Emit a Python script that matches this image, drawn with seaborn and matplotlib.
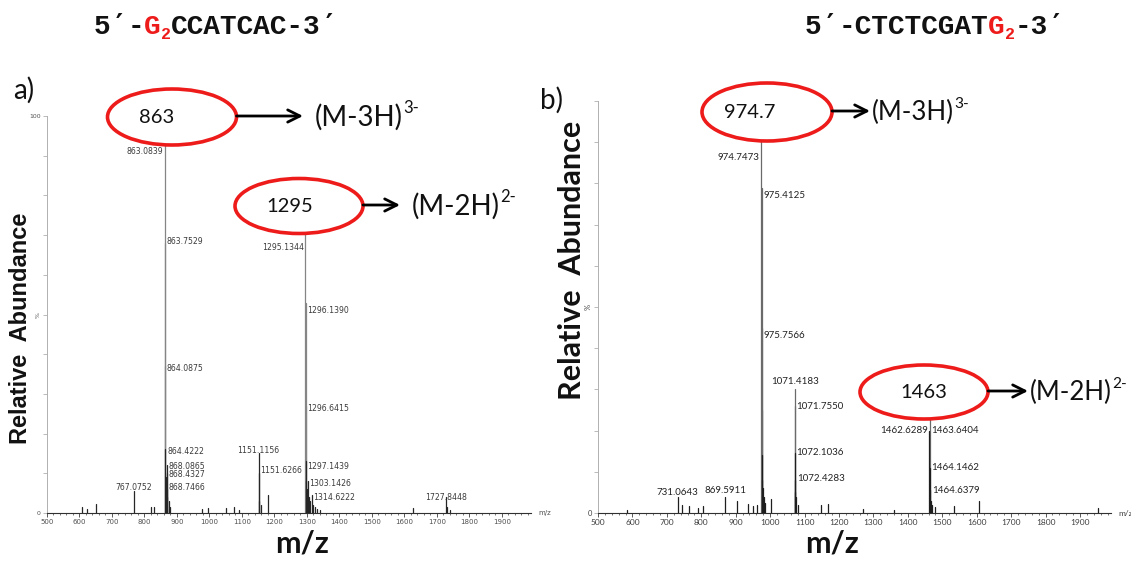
import matplotlib
matplotlib.use("Agg")
import matplotlib.pyplot as plt
from matplotlib.patches import Ellipse
from matplotlib.ticker import MultipleLocator, FixedLocator
import pandas as pd
import seaborn as sns

# ---------------- spectrum a) 5'-G2CCATCAC-3' ----------------
a_mz = [608.0, 623.0, 650.5, 767.0752, 819.0, 828.0,
        863.0839, 863.7529, 864.0875, 864.4222, 865.1, 866.0,
        868.0865, 868.4327, 868.7466, 870.5, 875.5, 880.0,
        977.0, 995.0, 1051.0, 1075.0, 1090.0,
        1151.1156, 1151.6266, 1153.0, 1160.0, 1179.5,
        1295.1344, 1296.1390, 1296.6415, 1297.1439, 1298.5, 1300.0,
        1303.1426, 1306.0, 1310.0, 1314.6222, 1320.0, 1325.0, 1332.0, 1340.0,
        1627.0, 1727.8448, 1732.0, 1740.0]
a_int = [1.6, 1.0, 2.2, 5.5, 1.6, 1.6,
         100.0, 68.0, 37.0, 16.0, 9.0, 7.0,
         12.0, 10.0, 6.0, 4.0, 3.0, 1.5,
         1.0, 1.2, 1.2, 1.5, 0.8,
         15.0, 10.0, 3.0, 2.0, 4.5,
         72.0, 53.0, 27.0, 13.0, 8.0, 6.0,
         8.0, 4.0, 3.0, 4.5, 2.0, 1.5, 1.0, 0.8,
         1.2, 4.0, 1.5, 0.8]
a_labels = [863.0839, 863.7529, 864.0875, 864.4222, 868.0865, 868.4327, 868.7466,
            767.0752, 1151.1156, 1151.6266, 1295.1344, 1296.1390, 1296.6415,
            1297.1439, 1303.1426, 1314.6222, 1727.8448]
a_label_level = [91, 68.5, 36.5, 15.6, 11.8, 9.8, 6.3,
                 6.3, 15.8, 10.8, 67, 51, 26.4, 11.8, 7.5, 4.0, 4.0]
a_label_side = ["right", "left", "left", "left", "left", "left", "left",
                "center", "center", "left", "right", "left", "left",
                "left", "left", "left", "center"]

# ---------------- spectrum b) 5'-CTCTCGATG2-3' ----------------
b_mz = [585.0, 731.0643, 744.0, 765.0, 790.0, 804.0, 869.5911, 904.0, 936.0,
        950.0, 962.0, 974.7473, 975.4125, 975.7566, 976.1, 976.5, 977.5, 979.0,
        982.0, 986.0, 1002.0, 1071.4183, 1071.7550, 1072.1036, 1072.4283, 1073.0,
        1075.0, 1080.0, 1147.0, 1168.0, 1270.0, 1360.0, 1462.6289, 1463.6404,
        1464.1462, 1464.6379, 1466.0, 1470.0, 1478.0, 1535.0, 1608.0, 1951.0]
b_int = [0.8, 4.0, 2.0, 1.8, 1.2, 1.7, 4.0, 3.0, 2.2,
         1.6, 2.0, 100.0, 79.0, 45.0, 25.0, 14.0, 8.0, 6.0,
         4.0, 2.5, 3.5, 30.0, 26.0, 14.5, 8.0, 5.0,
         4.0, 2.0, 2.0, 2.3, 1.0, 0.8, 20.0, 23.0,
         11.0, 5.5, 3.0, 2.0, 1.5, 1.7, 3.0, 1.3]
b_labels = [974.7473, 975.4125, 975.7566, 1071.4183, 1071.7550, 1072.1036,
            1072.4283, 731.0643, 869.5911, 1462.6289, 1463.6404, 1464.1462,
            1464.6379]
b_label_level = [86.4, 77, 43, 32, 25.8, 14.6, 8.3, 4.9, 5.4, 20, 20, 11, 5.4]
b_label_side = ["right", "left", "left", "center", "left", "left", "left",
                "center", "center", "right", "left", "left", "left"]

x_range = (500, 1990)

sns.set_theme(style="white")
plt.rcParams["font.family"] = ["DejaVu Sans"]

W, H = 1131, 561
fig = plt.figure(figsize=(W / 100, H / 100), dpi=100)
fig.patch.set_facecolor("white")


def px_axes(x0, x1, y_top, y_bot):
    return fig.add_axes([x0 / W, 1 - y_bot / H, (x1 - x0) / W, (y_bot - y_top) / H])


def sticks(mz, inten):
    rows = []
    for i, (m, h) in enumerate(zip(mz, inten)):
        rows.append((i, m, 0.0))
        rows.append((i, m, h))
    return pd.DataFrame(rows, columns=["peak", "mz", "abundance"])


def draw_spectrum(ax, mz, inten, tall_color, low_color):
    df = sticks(mz, inten)
    tall = df.groupby("peak")["abundance"].transform("max") > 20
    sns.lineplot(data=df[tall], x="mz", y="abundance", units="peak",
                 estimator=None, color=tall_color, lw=0.9, ax=ax, legend=False)
    sns.lineplot(data=df[~tall], x="mz", y="abundance", units="peak",
                 estimator=None, color=low_color, lw=0.9, ax=ax, legend=False)


def style_axes(ax, tick_font, tick_size, tick_color, top_label):
    ax.set_xlim(*x_range)
    ax.set_ylim(0, 100)
    ax.set_facecolor("none")
    for s in ("top", "right"):
        ax.spines[s].set_visible(False)
    ax.spines["left"].set_color("#b0b0b0")
    ax.spines["left"].set_linewidth(0.7)
    ax.spines["bottom"].set_color("#303030")
    ax.spines["bottom"].set_linewidth(0.8)
    ax.set_xlabel("")
    ax.set_ylabel("")
    ax.xaxis.set_major_locator(MultipleLocator(100))
    ax.xaxis.set_minor_locator(MultipleLocator(20))
    ax.yaxis.set_major_locator(FixedLocator([0, 50, 100]))
    ax.yaxis.set_minor_locator(MultipleLocator(10))
    ax.tick_params(axis="x", which="major", bottom=True, length=3, width=0.6,
                   color="#404040", pad=1.5, labelsize=tick_size, labelcolor=tick_color)
    ax.tick_params(axis="x", which="minor", bottom=True, length=1.5, width=0.5, color="#404040")
    ax.tick_params(axis="y", which="both", left=True, length=3, width=0.6,
                   color="#b0b0b0", pad=1.5, labelsize=tick_size - 0.6, labelcolor=tick_color)
    ax.set_xticklabels([f"{int(v)}" for v in ax.get_xticks()], family=tick_font)
    ax.set_yticklabels(["0", "%", top_label], family=tick_font)
    ax.get_yticklabels()[1].set_rotation(90)
    ax.annotate("m/z", xy=(1, 0), xycoords="axes fraction", xytext=(5, 0),
                textcoords="offset points", va="center", ha="left",
                fontsize=tick_size, color=tick_color, family=tick_font)


def peak_labels(ax, labels, levels, sides, font, size, color):
    for m, lev, side in zip(labels, levels, sides):
        dx = {"left": 1.2, "right": -1.2, "center": 0}[side]
        ax.annotate(f"{m:.4f}", xy=(m, lev), xytext=(dx, 0), textcoords="offset points",
                    ha=side, va="center", fontsize=size, color=color, family=font)


# panel a
ax_a = px_axes(47, 531, 116, 513)
draw_spectrum(ax_a, a_mz, a_int, "#858585", "#262626")
style_axes(ax_a, "DejaVu Sans", 5.0, "#505050", "100")
peak_labels(ax_a, a_labels, a_label_level, a_label_side, "DejaVu Sans", 5.6, "#3c3c3c")

# panel b
ax_b = px_axes(598, 1111, 101, 513)
draw_spectrum(ax_b, b_mz, b_int, "#6a6a6a", "#1e1e1e")
style_axes(ax_b, "Lato", 6.0, "#404040", "")
peak_labels(ax_b, b_labels, b_label_level, b_label_side, "Lato", 7.0, "#222222")

# annotation layer in pixel units (1 unit = 1 px)
ov = fig.add_axes([0, 0, 1, 1], zorder=10)
ov.set_xlim(0, W)
ov.set_ylim(H, 0)
ov.axis("off")
ov.patch.set_alpha(0)

RED = "#ee1b1b"
CAL = ["Lato", "DejaVu Sans"]
MONO = ["Liberation Mono", "DejaVu Sans Mono"]

fig.canvas.draw()
renderer = fig.canvas.get_renderer()


def chain(x, y, pieces):
    for text, dy, kw in pieces:
        t = ov.text(x, y + dy, text, va="baseline", ha="left", **kw)
        x += t.get_window_extent(renderer=renderer).width


def ion_box(cx, cy, w, h, value, tx, arrow_end, ion, charge, ion_size, gap):
    ov.add_patch(Ellipse((cx, cy), w, h, facecolor="white", edgecolor=RED, lw=2.6))
    ov.text(tx, cy, value, ha="center", va="center", fontsize=14.5, family=CAL, color="#111")
    ov.annotate("", xy=(arrow_end, cy - 1), xytext=(cx + w / 2, cy - 1),
                arrowprops=dict(arrowstyle="->", lw=2.0, color="black", mutation_scale=22,
                                shrinkA=0, shrinkB=0))
    base = cy + ion_size * 0.42
    chain(arrow_end + gap, base,
          [(ion, 0, dict(fontsize=ion_size, family=CAL, color="#111")),
           (charge, -ion_size * 0.62, dict(fontsize=ion_size * 0.6, family=CAL, color="#111"))])


ion_box(172, 117, 129, 56, "863", 157, 303, "(M-3H)", "3-", 20, 12)
ion_box(299, 206, 128, 55, "1295", 290, 400, "(M-2H)", "2-", 20, 12)
ion_box(767, 112, 130, 58, "974.7", 750, 870, "(M-3H)", "3-", 18.5, 2)
ion_box(924, 392, 128, 54, "1463", 924, 1028, "(M-2H)", "2-", 18.5, 2)

# oligonucleotide sequences (prime drawn from DejaVu Sans Mono)
seq_kw = dict(fontsize=20, family=MONO, fontweight="bold", color="#111")
prime_kw = dict(fontsize=20, family=["DejaVu Sans Mono"], fontweight="bold", color="#111")
red_kw = dict(fontsize=20, family=MONO, fontweight="bold", color=RED)
sub_kw = dict(fontsize=12, family=MONO, fontweight="bold", color=RED)
chain(94, 34, [("5", 0, seq_kw), ("′", 0, prime_kw), ("-", 0, seq_kw), ("G", 0, red_kw),
               ("2", 5, sub_kw), ("CCATCAC-3", 0, seq_kw), ("′", 0, prime_kw)])
chain(805, 34, [("5", 0, seq_kw), ("′", 0, prime_kw), ("-CTCTCGAT", 0, seq_kw),
                ("G", 0, red_kw), ("2", 5, sub_kw), ("-3", 0, seq_kw), ("′", 0, prime_kw)])

# panel tags and axis titles
ov.text(13, 90, "a)", fontsize=20, family=CAL, va="center", ha="left", color="#111")
ov.text(540, 100, "b)", fontsize=20, family=CAL, va="center", ha="left", color="#111")
ov.text(21, 328, "Relative  Abundance", rotation=90, ha="center", va="center",
        fontsize=17, fontweight="bold", family=["Liberation Sans", "DejaVu Sans"], color="#111")
ov.text(572, 260, "Relative  Abundance", rotation=90, ha="center", va="center",
        fontsize=22, fontweight="bold", family=CAL, color="#111")
ov.text(302, 543, "m/z", ha="center", va="center", fontsize=22, fontweight="bold",
        family=CAL, color="#111")
ov.text(832, 543, "m/z", ha="center", va="center", fontsize=22, fontweight="bold",
        family=CAL, color="#111")

fig.savefig("out.png", dpi=100, facecolor="white")
